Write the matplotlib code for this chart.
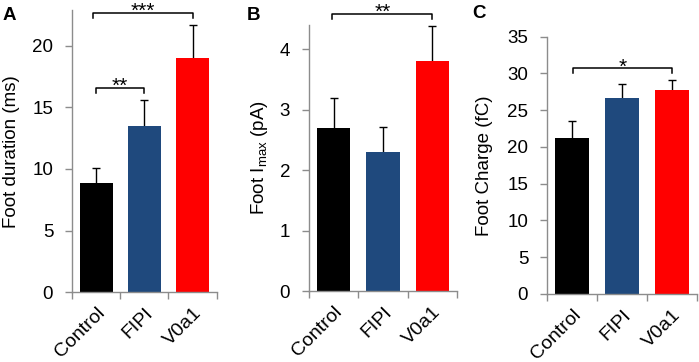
import numpy as np
import matplotlib
matplotlib.use("Agg")
import matplotlib.pyplot as plt

plt.rcParams['font.family'] = ['Liberation Sans', 'DejaVu Sans']

groups = ['Control', 'FIPI', 'V0a1']
colors = ['#000000', '#1f497d', '#ff0000']

duration = [8.85, 13.5, 19.0]
duration_err = [1.2, 2.1, 2.7]

imax = [2.7, 2.3, 3.8]
imax_err = [0.5, 0.42, 0.58]

charge = [21.2, 26.6, 27.8]
charge_err = [2.3, 1.9, 1.3]

gray = '#8c8c8c'
W, H = 699, 362


def bar_panel(ax, values, errs, ylabel, yticks, ymax):
    x = np.arange(len(groups))
    ax.bar(x, values, width=0.68, color=colors, zorder=2)
    # symmetric bars drawn behind the columns, so only the upper half shows
    ax.errorbar(x, values, yerr=errs, fmt='none', ecolor='black',
                elinewidth=1.0, capsize=2.8, capthick=1.0, zorder=1)
    ax.set_xlim(-0.5, 2.5)
    ax.set_ylim(0, ymax)
    ax.set_yticks(yticks)
    ax.set_xticks(x)
    ax.set_xticklabels(groups, rotation=45, ha='right', rotation_mode='anchor',
                       fontsize=14)
    ax.tick_params(axis='x', length=0, pad=9)
    ax.set_xticks(np.arange(len(groups) + 1) - 0.5, minor=True)
    ax.tick_params(axis='x', which='minor', length=5, color=gray, width=1)
    ax.tick_params(axis='y', length=5, color=gray, width=1, labelsize=13.5, pad=8.5)
    for side in ['top', 'right']:
        ax.spines[side].set_visible(False)
    for side in ['left', 'bottom']:
        ax.spines[side].set_color(gray)
        ax.spines[side].set_linewidth(1)
    ax.set_ylabel(ylabel, fontsize=13.5)


def bracket(ax, x0, x1, y, leg, label):
    ax.plot([x0, x0, x1, x1], [y - leg, y, y, y - leg], color='black',
            lw=1.1, clip_on=False, zorder=4)
    ax.annotate(label, xy=((x0 + x1) / 2, y), xytext=(0, -3),
                textcoords='offset points', ha='center', va='baseline',
                fontsize=15, annotation_clip=False)


fig = plt.figure(figsize=(W / 100, H / 100), dpi=100)
axA = fig.add_axes([0.103, 0.193, 0.207, 0.779])
axB = fig.add_axes([0.442, 0.196, 0.212, 0.735])
axC = fig.add_axes([0.7825, 0.188, 0.2146, 0.711])

bar_panel(axA, duration, duration_err, 'Foot duration (ms)', [0, 5, 10, 15, 20], 22.9)
bar_panel(axB, imax, imax_err, r'Foot I$_{\mathregular{max}}$ (pA)', [0, 1, 2, 3, 4], 4.4)
bar_panel(axC, charge, charge_err, 'Foot Charge (fC)', list(range(0, 36, 5)), 35)

axA.yaxis.set_label_coords(-0.36, 0.5)
axB.yaxis.set_label_coords(-0.26, 0.5)
axC.yaxis.set_label_coords(-0.36, 0.5)

for letter, px, py in [('A', 3, 7), ('B', 247, 7), ('C', 472, 5)]:
    fig.text(px / W, 1 - py / H, letter, fontsize=13.5, fontweight='bold',
             ha='left', va='top')

bracket(axA, 0, 1, 16.6, 0.45, '**')
bracket(axA, -0.07, 2.0, 22.7, 0.45, '***')
bracket(axB, -0.03, 2.0, 4.58, 0.08, '**')
bracket(axC, 0.02, 2.0, 30.7, 0.7, '*')

fig.savefig('out.png', dpi=100)
